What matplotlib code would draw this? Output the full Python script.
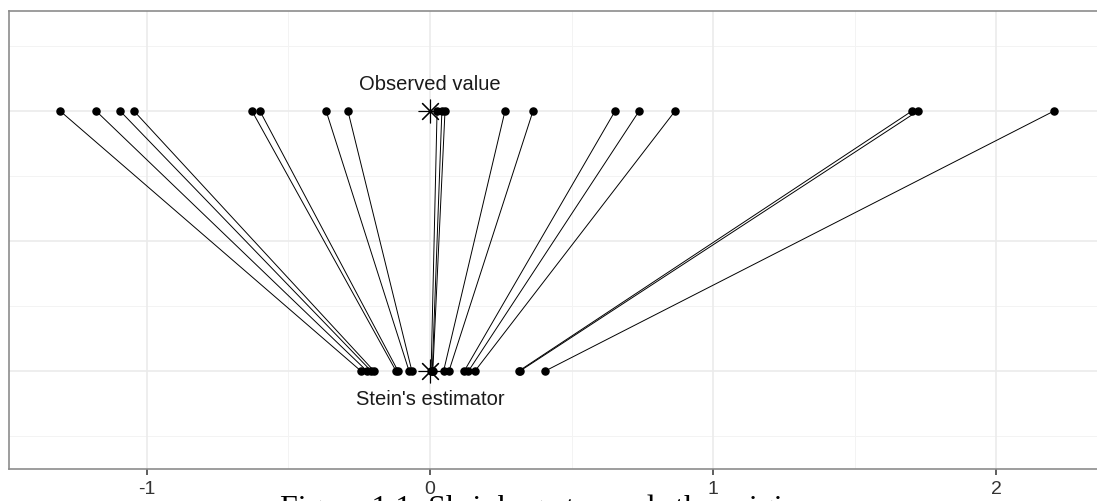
import matplotlib.pyplot as plt
import numpy as np

observed = [-1.307, -1.180, -1.095, -1.046, -0.629, -0.601, -0.367, -0.290,
            0.025, 0.042, 0.053, 0.265, 0.364, 0.654, 0.739, 0.866,
            1.703, 1.724, 2.205]
stein = [-0.244, -0.223, -0.208, -0.198, -0.120, -0.113, -0.074, -0.064,
         0.004, 0.008, 0.010, 0.048, 0.067, 0.121, 0.136, 0.159,
         0.314, 0.318, 0.407]
row_obs = 1
row_stein = 0
origin = 0
xticks = [-1, 0, 1, 2]
caption = "Figure 1.1: Shrinkage towards the origin"

fig = plt.figure(figsize=(10.97, 5.01), dpi=100)
ax = fig.add_axes([9/1097, 32/501, 1100/1097, 458/501])

# grid like theme_bw
for v in [-0.5, 0.5, 1.5]:
    ax.axvline(v, color='#F3F3F3', lw=0.7, zorder=0)
for v in [-0.25, 0.25, 0.75, 1.25]:
    ax.axhline(v, color='#F3F3F3', lw=0.7, zorder=0)
for v in xticks:
    ax.axvline(v, color='#EBEBEB', lw=1.2, zorder=0)
for v in [0, 0.5, 1]:
    ax.axhline(v, color='#EBEBEB', lw=1.2, zorder=0)

for xo, xs in zip(observed, stein):
    ax.plot([xo, xs], [row_obs, row_stein], color='black', lw=0.7, zorder=2)

ax.scatter(observed, [row_obs]*len(observed), s=26, color='black', zorder=3)
ax.scatter(stein, [row_stein]*len(stein), s=26, color='black', zorder=3)

ax.plot([origin], [row_obs], marker=(8, 2, 0), ms=17, mew=0.8, color='black', zorder=4)
ax.plot([origin], [row_stein], marker=(8, 2, 0), ms=17, mew=0.8, color='black', zorder=4)

ax.text(origin, 1.1, "Observed value", ha='center', va='center',
        fontsize=14.5, family='Liberation Sans', color='#1a1a1a')
ax.text(origin, -0.11, "Stein's estimator", ha='center', va='center',
        fontsize=14.5, family='Liberation Sans', color='#1a1a1a')

ax.set_xlim((9-430)/283, (1109-430)/283)
ax.set_ylim(-(469-371)/260, (371-11)/260)
ax.set_xticks(xticks)
ax.set_xticklabels([str(t) for t in xticks], family='Liberation Sans',
                   fontsize=14, color='#333333')
ax.set_yticks([])
ax.tick_params(axis='x', length=4, width=1.1, color='#333333', pad=5)
for s in ax.spines.values():
    s.set_color('#8C8C8C')
    s.set_linewidth(1.2)

fig.text(280/1097, 6/501, caption, ha='left', va='top',
         fontsize=23, family='Liberation Serif', color='black')

fig.savefig('out.png', dpi=100)
